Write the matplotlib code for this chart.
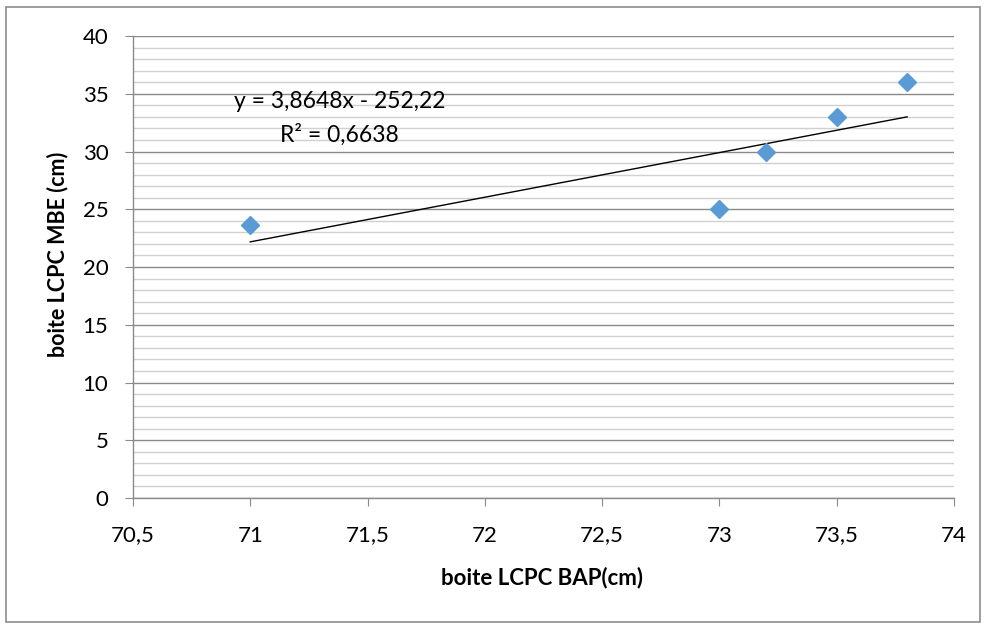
import numpy as np
import matplotlib
matplotlib.use("Agg")
import matplotlib.pyplot as plt
from matplotlib.patches import Rectangle
from matplotlib.ticker import MultipleLocator, FuncFormatter

# Measurements (cm)
bap = [71.0, 73.0, 73.2, 73.5, 73.8]
mbe = [23.6, 25.0, 30.0, 33.0, 36.0]
x_ticks = [70.5, 71, 71.5, 72, 72.5, 73, 73.5, 74]
y_ticks = [0, 5, 10, 15, 20, 25, 30, 35, 40]

plt.rcParams['font.family'] = ['Lato', 'DejaVu Sans']

W, H = 986, 628
fig = plt.figure(figsize=(W / 100, H / 100), dpi=100)
ax = fig.add_axes([133 / W, 1 - 498 / H, (954 - 133) / W, (498 - 36) / H])

# outer chart border
fig.patches.append(Rectangle((6 / W, 6 / H), 974 / W, 615 / H,
                             transform=fig.transFigure, fill=False,
                             edgecolor='#8c8c8c', linewidth=1.2))

ax.set_xlim(x_ticks[0], x_ticks[-1])
ax.set_ylim(y_ticks[0], y_ticks[-1])
ax.set_xticks(x_ticks)
ax.set_yticks(y_ticks)
ax.yaxis.set_minor_locator(MultipleLocator(1))


def comma_fmt(v, pos):
    return ('%g' % v).replace('.', ',')


ax.xaxis.set_major_formatter(FuncFormatter(comma_fmt))
ax.yaxis.set_major_formatter(FuncFormatter(comma_fmt))

ax.grid(axis='y', which='major', color='#8a8a8a', linewidth=1.0, zorder=0)
ax.grid(axis='y', which='minor', color='#d0d0d0', linewidth=1.0, zorder=0)
ax.set_axisbelow(True)

for s in ['top', 'right']:
    ax.spines[s].set_visible(False)
for s in ['left', 'bottom']:
    ax.spines[s].set_color('#8a8a8a')
    ax.spines[s].set_linewidth(1.0)

ax.tick_params(axis='both', which='major', direction='out', length=5.8,
               color='#8a8a8a', labelsize=16, labelcolor='black')
ax.tick_params(axis='x', pad=14)
ax.tick_params(axis='y', pad=12)
ax.tick_params(axis='y', which='minor', length=0)

# linear trendline
slope, intercept = np.polyfit(bap, mbe, 1)
r2 = np.corrcoef(bap, mbe)[0, 1] ** 2
xt = np.array([min(bap), max(bap)])
ax.plot(xt, slope * xt + intercept, color='black', linewidth=1.0, zorder=3)

ax.plot(bap, mbe, linestyle='none', marker='D', markersize=9.5,
        color='#5b9bd5', markeredgecolor='#5b9bd5', zorder=4)

eq = ('y = %.4fx - %.2f' % (slope, -intercept)).replace('.', ',')
r2t = ('R² = %.4f' % r2).replace('.', ',')
ax.text(71.38, 34.3, eq, ha='center', va='center', fontsize=16.5, zorder=5)
ax.text(71.38, 31.45, r2t, ha='center', va='center', fontsize=16.5, zorder=5)

ax.set_xlabel('boite LCPC BAP(cm)', fontsize=16, fontweight='bold')
ax.set_ylabel('boite LCPC MBE (cm)', fontsize=15.5, fontweight='bold')
ax.xaxis.set_label_coords(0.498, (498 - 578) / 462)
ax.xaxis.label.set_va('center')
ax.yaxis.set_label_coords((58 - 133) / 821, (498 - 254) / 462)
ax.yaxis.label.set_va('center')

fig.savefig('out.png', dpi=100, facecolor='white')
